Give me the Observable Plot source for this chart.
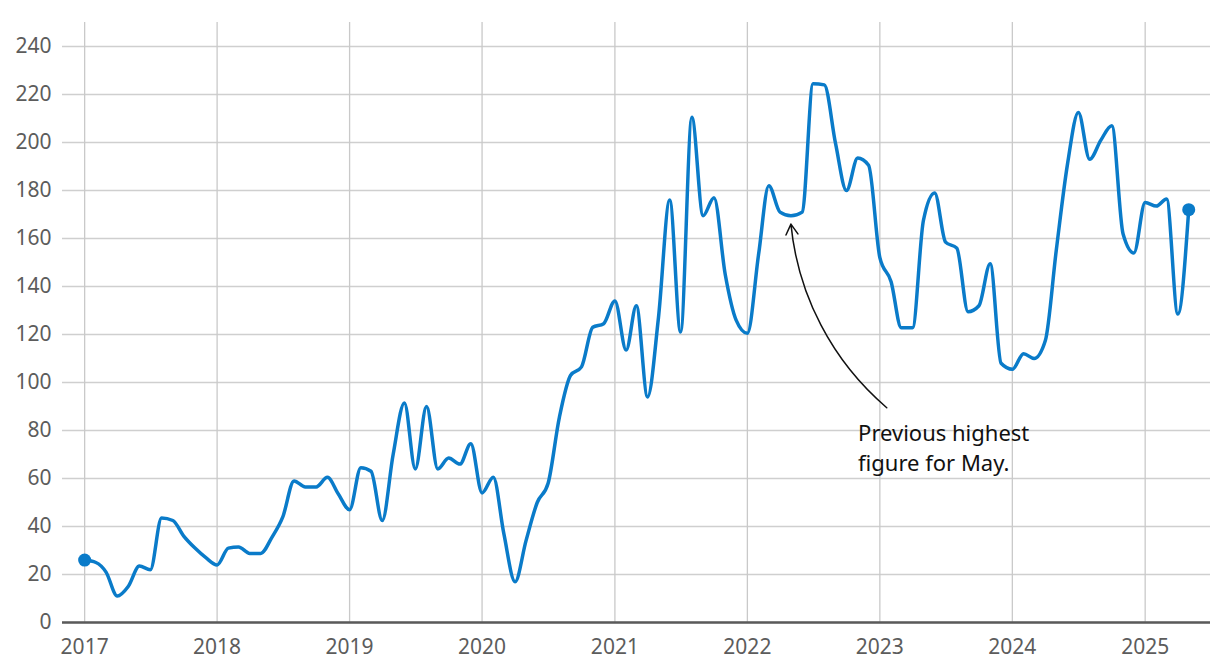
<!DOCTYPE html>
<html>
<head>
<meta charset="utf-8">
<script src="https://cdn.jsdelivr.net/npm/d3@7"></script>
<script src="https://cdn.jsdelivr.net/npm/@observablehq/plot@0.6"></script>
<style>
  html, body { margin: 0; padding: 0; background: #fff; }
  #chart { width: 1220px; height: 668px; }
</style>
</head>
<body>
<div id="chart"></div>
<script>
// Monthly values, January to December of each year
const values2017 = [26, 25, 21, 11, 15, 23.5, 22, 43.5, 42.5, 36, 31, 27];
const values2018 = [24, 31, 31.5, 28.8, 28.8, 35.5, 44, 59, 56.5, 56.5, 60.5, 53.5];
const values2019 = [47, 64.5, 63, 42.5, 70, 91.5, 64, 90, 64, 68.5, 66, 74.5];
const values2020 = [54, 60.5, 37, 17, 34, 50, 58, 85.5, 103, 106.5, 123, 124.5];
const values2021 = [134, 113.5, 132, 94, 127, 176, 121, 210.5, 169.5, 177, 145, 126];
const values2022 = [120.5, 153.5, 182, 171, 169.5, 171, 224.5, 224, 199.5, 180, 193.5, 190.5];
const values2023 = [152, 142, 122.8, 122.8, 167.5, 179, 158.5, 156, 129.5, 132, 149.5, 108];
const values2024 = [105.5, 112, 110, 117.5, 155, 191, 212.5, 193, 201, 207, 162, 154];
const values2025 = [175, 173.5, 176.5, 128.5, 172];

const years = [2017, 2018, 2019, 2020, 2021, 2022, 2023, 2024, 2025];
const yearValues = [values2017, values2018, values2019, values2020, values2021, values2022, values2023, values2024, values2025];
const yTicks = [0, 20, 40, 60, 80, 100, 120, 140, 160, 180, 200, 220, 240];
const annotationText = "Previous highest\nfigure for May.";

const data = [];
years.forEach((yr, i) => {
  yearValues[i].forEach((v, m) => data.push({date: new Date(Date.UTC(yr, m, 1)), value: v}));
});
const yearTicks = years.map(y => new Date(Date.UTC(y, 0, 1)));
const endpoints = [data[0], data[data.length - 1]];

const font = "'Noto Sans', sans-serif";
const blue = "#0a7bc9";

const chart = Plot.plot({
  width: 1220,
  height: 668,
  marginTop: 22,
  marginBottom: 46,
  marginLeft: 62,
  marginRight: 10,
  style: {fontFamily: font, background: "#fff"},
  x: {type: "utc", domain: [new Date(Date.UTC(2016, 10, 1)), new Date(Date.UTC(2025, 5, 30))]},
  y: {domain: [0, 250]},
  marks: [
    Plot.gridY(yTicks, {stroke: "#cfcfcf", strokeOpacity: 1, strokeWidth: 1.3}),
    Plot.gridX(yearTicks, {stroke: "#c9c9c9", strokeOpacity: 1, strokeWidth: 1.3}),
    Plot.ruleY([0], {stroke: "#5a5a5a", strokeWidth: 2.5}),
    Plot.axisY(yTicks, {tickSize: 0, tickPadding: 11, fontSize: 21, fill: "#5c5c5c", label: null}),
    Plot.axisX(yearTicks, {tickSize: 0, tickPadding: 17, fontSize: 21, fill: "#5c5c5c", tickFormat: d3.utcFormat("%Y"), label: null}),
    Plot.line(data, {x: "date", y: "value", curve: "monotone-x", stroke: blue, strokeWidth: 3.5}),
    Plot.dot(endpoints, {x: "date", y: "value", r: 6.5, fill: blue, stroke: "none"}),
    Plot.arrow([{x1: new Date(Date.UTC(2023, 0, 20)), y1: 89.5, x2: new Date(Date.UTC(2022, 4, 1)), y2: 166}], {
      x1: "x1", y1: "y1", x2: "x2", y2: "y2", bend: 22, stroke: "#111", strokeWidth: 1.5, headLength: 12
    }),
    Plot.text([annotationText], {
      x: new Date(Date.UTC(2022, 10, 2)), y: 84.5, text: d => d, textAnchor: "start", lineAnchor: "top",
      fontSize: 22, lineHeight: 1.37, fill: "#111"
    })
  ]
});
document.getElementById("chart").appendChild(chart);
</script>
</body>
</html>
